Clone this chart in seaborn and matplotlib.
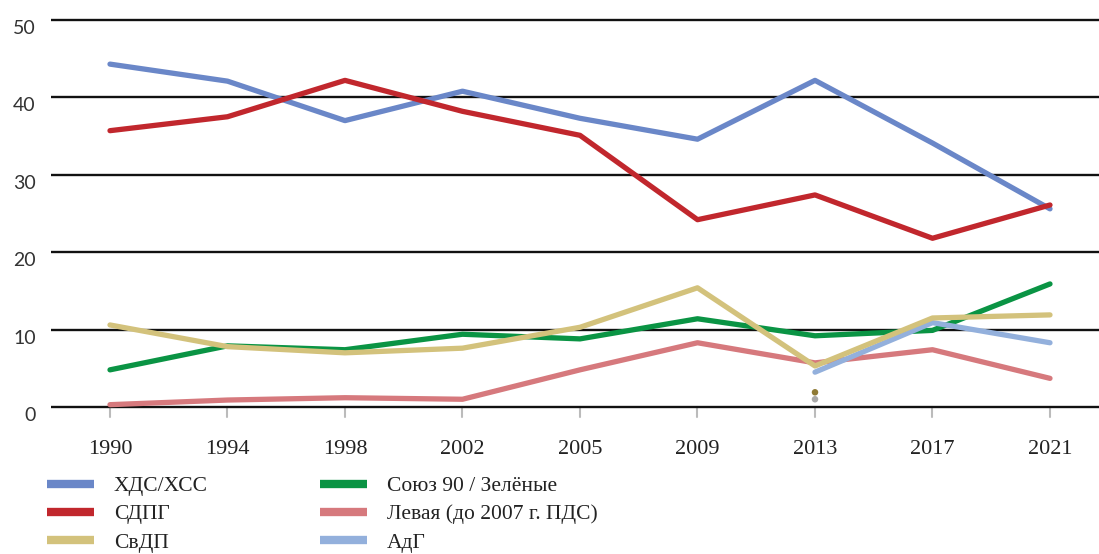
import numpy as np
import pandas as pd
import matplotlib
matplotlib.use("Agg")
import matplotlib.pyplot as plt
import matplotlib.transforms as mtransforms
from matplotlib.lines import Line2D
import seaborn as sns

years = ["1990", "1994", "1998", "2002", "2005", "2009", "2013", "2017", "2021"]

cdu = [44.3, 42.1, 37.0, 40.8, 37.3, 34.6, 42.2, 34.1, 25.6]
spd = [35.7, 37.5, 42.2, 38.2, 35.1, 24.2, 27.4, 21.8, 26.1]
fdp = [10.6, 7.8, 7.0, 7.6, 10.3, 15.4, 5.3, 11.5, 11.9]
greens = [4.8, 7.9, 7.4, 9.4, 8.8, 11.4, 9.2, 9.9, 15.9]
left = [0.3, 0.9, 1.2, 1.0, 4.8, 8.3, 5.7, 7.4, 3.7]
afd_years = ["2013", "2017", "2021"]
afd = [4.5, 10.9, 8.3]

# two single results in 2013
dot_values = [1.9, 1.0]
dot_colors = ["#8f7a35", "#a9a9a9"]

names = ["ХДС/ХСС", "СДПГ", "СвДП", "Союз 90 / Зелёные",
         "Левая (до 2007 г. ПДС)", "АдГ"]
colors = ["#6a87c8", "#c1272d", "#d3c27c", "#0a9444", "#d6797d", "#93b0dc"]

rows = []
for name, vals in zip(names[:5], [cdu, spd, fdp, greens, left]):
    for y, v in zip(years, vals):
        rows.append((name, years.index(y), v))
for y, v in zip(afd_years, afd):
    rows.append((names[5], years.index(y), v))
df = pd.DataFrame(rows, columns=["party", "x", "value"])

sns.set_theme(style="white")
plt.rcParams["font.family"] = ["Liberation Serif", "DejaVu Serif"]

fig = plt.figure(figsize=(10.99, 5.54), dpi=100)
W, H = 1099, 554
# y=0 at px 407, y=50 at px 20
ppu = (407 - 20) / 50
ax_top = 20 - ppu
ax_bot = 407 + ppu
ax = fig.add_axes([51 / W, (H - ax_bot) / H, (W - 51) / W, (ax_bot - ax_top) / H])

for yv in range(0, 51, 10):
    ax.axhline(yv, color="#111111", lw=1.7, zorder=1)

order = [names[0], names[1], names[4], names[3], names[5], names[2]]
palette = dict(zip(names, colors))
for i, n in enumerate(order):
    sub = df[df["party"] == n]
    sns.lineplot(data=sub, x="x", y="value", color=palette[n], lw=3.8,
                 ax=ax, zorder=3 + i, legend=False)

ax.scatter([years.index("2013")] * 2, dot_values, s=22, c=dot_colors,
           zorder=10, linewidths=0)

ax.set_xlim(-0.502, 8.417)
ax.set_ylim(-1, 51)
ax.set_xlabel("")
ax.set_ylabel("")
for s in ax.spines.values():
    s.set_visible(False)

ax.set_xticks(range(len(years)))
ax.set_xticklabels(years, fontsize=16, color="#222222")
ax.set_yticks(range(0, 51, 10))
ax.set_yticklabels([str(v) for v in range(0, 51, 10)], fontsize=14,
                   color="#333333", family=["Lato", "DejaVu Sans"])
ax.tick_params(axis="x", length=0, pad=18)
ax.tick_params(axis="y", length=0, pad=11)
off = mtransforms.ScaledTranslation(0, -7 / 100, fig.dpi_scale_trans)
for lab in ax.get_yticklabels():
    lab.set_transform(lab.get_transform() + off)

# short grey tick marks below the zero line
for i in range(len(years)):
    ax.plot([i, i], [0, -1.3], color="#bbbbbb", lw=1.5, clip_on=False, zorder=0)

handles = [Line2D([0], [0], color=c, lw=6, solid_capstyle="butt") for c in colors]
leg_kw = dict(frameon=False, fontsize=15.5, handlelength=2.2, handletextpad=0.9,
              labelspacing=0.38, borderaxespad=0, borderpad=0,
              bbox_transform=fig.transFigure, loc="upper left")
leg1 = fig.legend(handles[:3], names[:3],
                  bbox_to_anchor=(47 / W, 1 - 476 / H), **leg_kw)
leg2 = fig.legend(handles[3:], names[3:],
                  bbox_to_anchor=(320 / W, 1 - 476 / H), **leg_kw)
for leg in (leg1, leg2):
    for t in leg.get_texts():
        t.set_color("#222222")

fig.savefig("out.png", dpi=100)
